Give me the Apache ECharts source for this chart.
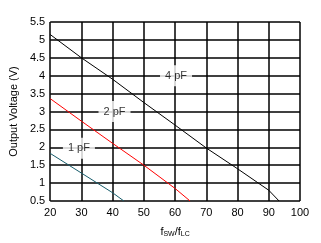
<!DOCTYPE html>
<html><head><meta charset="utf-8">
<script src="https://cdn.jsdelivr.net/npm/echarts@6/dist/echarts.min.js"></script>
<style>html,body{margin:0;padding:0;background:#fff}#c{width:321px;height:243px}</style>
</head><body><div id="c"></div>
<script>
const xTicks = [20, 30, 40, 50, 60, 70, 80, 90, 100];
const yTicks = [0.5, 1, 1.5, 2, 2.5, 3, 3.5, 4, 4.5, 5, 5.5];
const seriesNames = ['4 pF', '2 pF', '1 pF'];
const x4pF = [20, 30, 40, 50, 60, 70, 80, 90, 93.3];
const y4pF = [5.15, 4.5, 3.9, 3.25, 2.62, 1.98, 1.4, 0.8, 0.5];
const x2pF = [20, 30, 40, 50, 60, 64.8];
const y2pF = [3.36, 2.73, 2.11, 1.5, 0.85, 0.5];
const x1pF = [20, 30, 40, 43.6];
const y1pF = [1.83, 1.28, 0.73, 0.5];
const labelX = [60.3, 40.6, 29.2];
const labelY = [4.0, 3.0, 1.97];
const colors = ['#000000', '#ff0000', '#175c6b'];

const zip = (xs, ys) => xs.map((x, i) => [x, ys[i]]);
const font = 'Liberation Sans, Arial, sans-serif';
const chart = echarts.init(document.getElementById('c'), null, {renderer: 'canvas'});
const lineData = [zip(x4pF, y4pF), zip(x2pF, y2pF), zip(x1pF, y1pF)];
const series = lineData.map((d, i) => ({
  type: 'line', data: d, showSymbol: false, symbol: 'none',
  lineStyle: {color: colors[i], width: 1}, z: 3, animation: false
}));
series.push({
  type: 'scatter', symbolSize: 0, z: 5, animation: false,
  data: seriesNames.map((n, i) => ({value: [labelX[i], labelY[i]], name: n})),
  label: {
    show: true, position: 'inside', formatter: p => p.name,
    fontFamily: font, fontSize: 11, color: '#000',
    backgroundColor: '#fff', padding: [5, 5, 5, 5]
  }
});
chart.setOption({
  animation: false,
  grid: {left: 45, right: 21, top: 22, bottom: 41, containLabel: false},
  xAxis: {
    type: 'value', min: 20, max: 100, interval: 10,
    axisLine: {show: false}, axisTick: {show: false},
    splitLine: {show: true, lineStyle: {color: '#000', width: 1.5}},
    axisLabel: {fontFamily: font, fontSize: 11, color: '#000', margin: 6},
    name: 'f{s|SW}/f{s|LC}', nameLocation: 'middle', nameGap: 25,
    nameTextStyle: {fontFamily: font, fontSize: 11, color: '#000',
      rich: {s: {fontFamily: font, fontSize: 7, color: '#000', padding: [5, 0, 0, 0]}}}
  },
  yAxis: {
    type: 'value', min: 0.5, max: 5.5, interval: 0.5,
    axisLine: {show: false}, axisTick: {show: false},
    splitLine: {show: true, lineStyle: {color: '#000', width: 1.5}},
    axisLabel: {fontFamily: font, fontSize: 11, color: '#000', margin: 5},
    name: 'Output Voltage (V)', nameLocation: 'middle', nameGap: 25,
    nameTextStyle: {fontFamily: font, fontSize: 11, color: '#000'}
  },
  series: series
});
</script></body></html>
